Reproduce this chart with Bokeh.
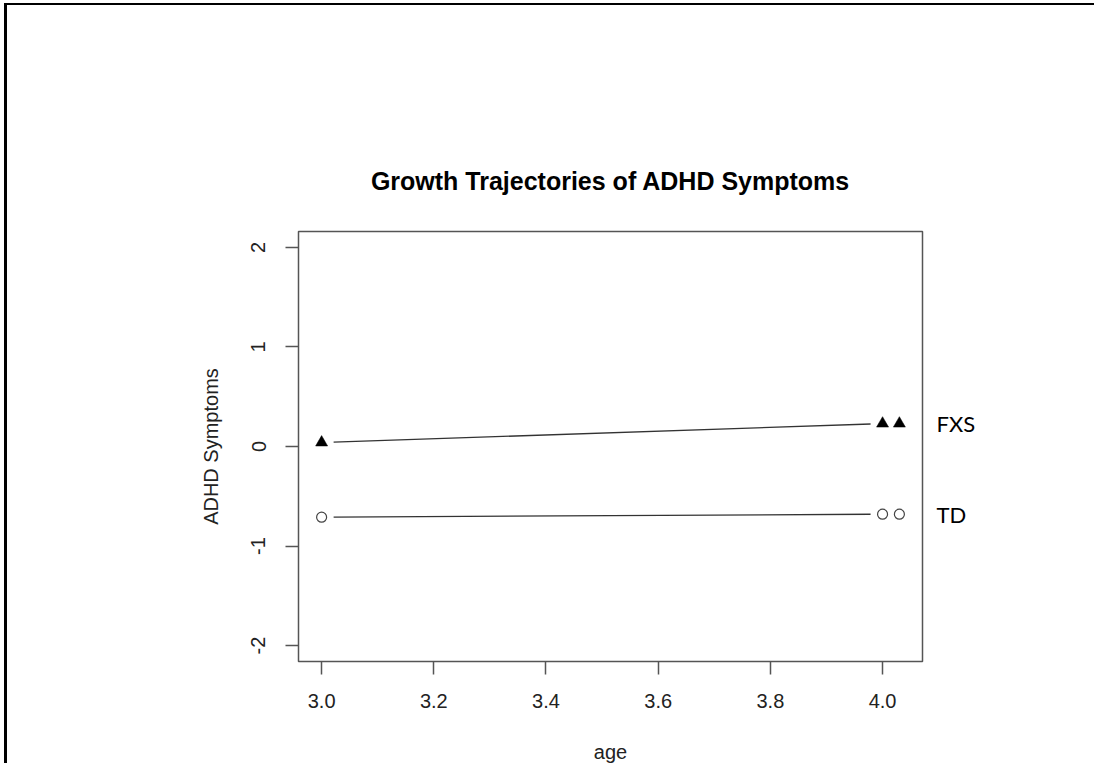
import math
from bokeh.plotting import figure
from bokeh.models import Range1d, FixedTicker, LinearAxis
from bokeh.embed import file_html
from bokeh.resources import INLINE

# ---- data ----
age = [3.0, 4.0, 4.03]
fxs = [0.04, 0.23, 0.23]
td = [-0.71, -0.68, -0.68]
x_ticks = [3.0, 3.2, 3.4, 3.6, 3.8, 4.0]
x_tick_labels = ["3.0", "3.2", "3.4", "3.6", "3.8", "4.0"]
y_ticks = [-2, -1, 0, 1, 2]
y_tick_labels = ["-2", "-1", "0", "1", "2"]
y_lim = [-2, 2]
title_text = "Growth Trajectories of ADHD Symptoms"
x_label = "age"
y_label = "ADHD Symptoms"
group_names = ["FXS", "TD"]

# ---- layout ----
W, H = 1090, 760
ML, MT = 291, 226
FW, FH = 624, 430
MR = W - ML - FW
MB = H - MT - FH
FONT = "Liberation Sans"


def pad(lo, hi):
    d = (hi - lo) * 0.04
    return lo - d, hi + d


x0, x1 = pad(min(age), max(age))
y0, y1 = pad(*y_lim)

p = figure(width=W, height=H, output_backend="svg", toolbar_location=None,
           x_range=Range1d(x0, x1), y_range=Range1d(y0, y1),
           min_border_left=ML, min_border_right=MR,
           min_border_top=MT, min_border_bottom=MB)
p.styles = {"margin-left": "4px", "margin-top": "3px",
            "border-left": "3px solid black", "border-top": "2px solid black"}

p.grid.visible = False
p.outline_line_color = "#555555"
p.outline_line_width = 1.5
p.background_fill_color = "white"
p.border_fill_color = "white"

# title
p.title.text = title_text
p.title.align = "center"
p.title.text_font = FONT
p.title.text_font_size = "25px"
p.title.text_font_style = "bold"
p.title.text_color = "black"
p.title.standoff = 74

for ax, ticks, labels in ((p.xaxis[0], x_ticks, x_tick_labels),
                          (p.yaxis[0], y_ticks, y_tick_labels)):
    ax.ticker = FixedTicker(ticks=ticks, minor_ticks=[])
    ax.major_label_overrides = {t: l for t, l in zip(ticks, labels)}
    ax.axis_line_color = None
    ax.major_tick_line_color = "#555555"
    ax.major_tick_line_width = 1.5
    ax.major_tick_in = 0
    ax.major_tick_out = 13
    ax.minor_tick_line_color = None
    ax.major_label_text_font = FONT
    ax.major_label_text_font_size = "20px"
    ax.major_label_text_color = "#222222"
    ax.axis_label_text_font = FONT
    ax.axis_label_text_font_size = "20px"
    ax.axis_label_text_font_style = "normal"
    ax.axis_label_text_color = "#222222"

p.xaxis[0].axis_label = x_label
p.yaxis[0].axis_label = y_label
p.xaxis[0].major_label_standoff = 19
p.xaxis[0].axis_label_standoff = 30
p.yaxis[0].major_label_orientation = "parallel"
p.yaxis[0].major_label_standoff = 20
p.yaxis[0].axis_label_standoff = 27

# group labels at the right, placed at each series' last value
last_vals = [fxs[-1], td[-1]]
rax = LinearAxis(ticker=FixedTicker(ticks=last_vals, minor_ticks=[]),
                 major_label_overrides={v: n for v, n in zip(last_vals, group_names)})
rax.axis_line_color = None
rax.major_tick_line_color = None
rax.minor_tick_line_color = None
rax.major_tick_in = 0
rax.major_tick_out = 0
rax.major_label_standoff = 14
rax.major_label_text_font = "Lato"
rax.major_label_text_font_size = "22px"
rax.major_label_text_color = "black"
p.add_layout(rax, "right")

# gapped line segments (R type="b")
sx = FW / (x1 - x0)
sy = FH / (y1 - y0)


def gapped(xs, ys, gap=12):
    a0, b0, a1, b1 = [], [], [], []
    for i in range(len(xs) - 1):
        dx = (xs[i + 1] - xs[i]) * sx
        dy = (ys[i + 1] - ys[i]) * sy
        L = math.hypot(dx, dy)
        if L <= 2 * gap:
            continue
        f = gap / L
        a0.append(xs[i] + (xs[i + 1] - xs[i]) * f)
        b0.append(ys[i] + (ys[i + 1] - ys[i]) * f)
        a1.append(xs[i + 1] - (xs[i + 1] - xs[i]) * f)
        b1.append(ys[i + 1] - (ys[i + 1] - ys[i]) * f)
    return a0, b0, a1, b1


for ys in (fxs, td):
    a0, b0, a1, b1 = gapped(age, ys)
    p.segment(a0, b0, a1, b1, line_color="#333333", line_width=1.3)

p.scatter(age, fxs, marker="triangle", size=12, fill_color="black",
          line_color="black", line_width=0.5)
p.scatter(age, td, marker="circle", size=10, fill_color="white",
          line_color="#444444", line_width=1.2)

open("out.html", "w").write(file_html(p, INLINE))
